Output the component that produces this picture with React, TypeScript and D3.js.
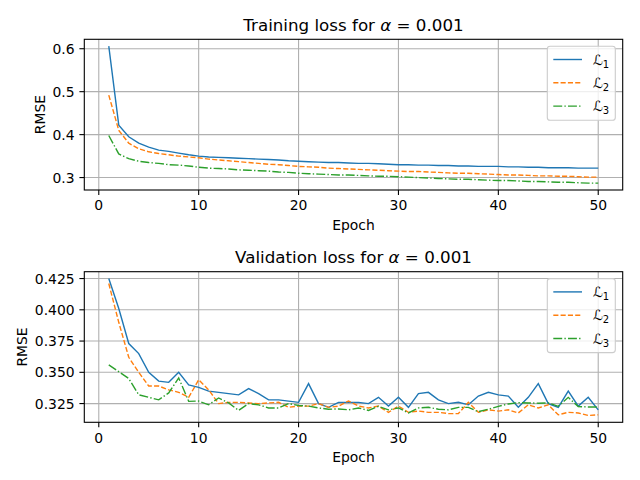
import React from 'react';
import * as d3 from 'd3';

const epochs = d3.range(1, 51);

const trainL1 = [
  0.606, 0.422, 0.395, 0.380, 0.371, 0.364, 0.361, 0.357, 0.353, 0.350,
  0.348, 0.347, 0.346, 0.345, 0.344, 0.343, 0.342, 0.341, 0.339, 0.338,
  0.337, 0.336, 0.335, 0.335, 0.334, 0.333, 0.333, 0.332, 0.331, 0.330,
  0.330, 0.329, 0.329, 0.328, 0.328, 0.327, 0.327, 0.326, 0.326, 0.326,
  0.325, 0.325, 0.324, 0.324, 0.323, 0.323, 0.323, 0.322, 0.322, 0.322,
];
const trainL2 = [
  0.492, 0.410, 0.380, 0.367, 0.360, 0.356, 0.353, 0.350, 0.348, 0.346,
  0.343, 0.341, 0.339, 0.337, 0.335, 0.333, 0.331, 0.330, 0.328, 0.326,
  0.325, 0.324, 0.322, 0.321, 0.320, 0.319, 0.318, 0.317, 0.316, 0.315,
  0.314, 0.314, 0.313, 0.312, 0.311, 0.310, 0.310, 0.309, 0.308, 0.307,
  0.306, 0.306, 0.305, 0.304, 0.304, 0.303, 0.303, 0.302, 0.301, 0.301,
];
const trainL3 = [
  0.398, 0.355, 0.344, 0.338, 0.335, 0.333, 0.330, 0.329, 0.327, 0.324,
  0.322, 0.321, 0.320, 0.318, 0.317, 0.316, 0.315, 0.313, 0.312, 0.310,
  0.309, 0.308, 0.307, 0.306, 0.306, 0.305, 0.304, 0.303, 0.303, 0.302,
  0.301, 0.300, 0.299, 0.298, 0.297, 0.296, 0.296, 0.295, 0.294, 0.293,
  0.293, 0.292, 0.291, 0.291, 0.290, 0.289, 0.289, 0.288, 0.287, 0.287,
];

const valL1 = [
  0.425, 0.401, 0.373, 0.365, 0.350, 0.343, 0.342, 0.350, 0.340, 0.338,
  0.335, 0.334, 0.333, 0.332, 0.337, 0.333, 0.328, 0.328, 0.327, 0.326,
  0.341, 0.325, 0.322, 0.326, 0.326, 0.326, 0.325, 0.330, 0.323, 0.330,
  0.322, 0.333, 0.334, 0.328, 0.325, 0.326, 0.324, 0.331, 0.334, 0.332,
  0.331, 0.322, 0.330, 0.341, 0.325, 0.322, 0.335, 0.323, 0.330, 0.320,
];
const valL2 = [
  0.421, 0.390, 0.362, 0.350, 0.339, 0.339, 0.336, 0.334, 0.330, 0.344,
  0.336, 0.325, 0.326, 0.326, 0.3255, 0.325, 0.3255, 0.326, 0.322, 0.323,
  0.323, 0.325, 0.322, 0.323, 0.327, 0.323, 0.3215, 0.323, 0.318, 0.323,
  0.318, 0.319, 0.318, 0.318, 0.317, 0.317, 0.326, 0.318, 0.320, 0.319,
  0.320, 0.3175, 0.324, 0.3215, 0.324, 0.316, 0.318, 0.3175, 0.3155, 0.316,
];
const valL3 = [
  0.356, 0.3505, 0.345, 0.332, 0.330, 0.328, 0.3335, 0.3455, 0.3268, 0.327,
  0.324, 0.3295, 0.3255, 0.3195, 0.325, 0.324, 0.3215, 0.3215, 0.325, 0.3235,
  0.323, 0.3215, 0.3205, 0.3207, 0.320, 0.3215, 0.3195, 0.3228, 0.320, 0.3215,
  0.3175, 0.3215, 0.322, 0.3205, 0.320, 0.322, 0.322, 0.3185, 0.3205, 0.3228,
  0.3247, 0.3258, 0.3255, 0.3253, 0.3255, 0.3228, 0.330, 0.3226, 0.3223, 0.3223,
];

const xTicks = [0, 10, 20, 30, 40, 50];
const trainYTicks = [0.3, 0.4, 0.5, 0.6];
const valYTicks = [0.325, 0.35, 0.375, 0.4, 0.425];
const seriesNames = ['1', '2', '3'];
const colors = ['#1f77b4', '#ff7f0e', '#2ca02c'];
const dashes = ['none', '5.1,2.2', '8.9,2.2,1.4,2.2'];

const FONT = 'DejaVu Sans, sans-serif';

interface PanelProps {
  title: string;
  series: number[][];
  yTicks: number[];
  yFormat: string;
  top: number;
  bottom: number;
  ylabelX: number;
}

const LEFT = 84.3;
const RIGHT = 622.7;

const Panel: React.FC<PanelProps> = ({ title, series, yTicks, yFormat, top, bottom, ylabelX }) => {
  const x = d3.scaleLinear().domain([1 - 2.45, 50 + 2.45]).range([LEFT, RIGHT]);
  const all = series.flat();
  const [lo, hi] = d3.extent(all) as [number, number];
  const pad = (hi - lo) * 0.05;
  const y = d3.scaleLinear().domain([lo - pad, hi + pad]).range([bottom, top]);
  const fmt = d3.format(yFormat);
  const line = d3.line<number>().x((_, i) => x(epochs[i])).y(d => y(d));

  const legX = 547.3;
  const legY = top + 6.9;
  const rowH = 23.3;

  return (
    <g>
      {/* grid */}
      {xTicks.map(t => (
        <line key={'gx' + t} x1={x(t)} x2={x(t)} y1={top} y2={bottom} stroke="#b0b0b0" strokeWidth={1.1} />
      ))}
      {yTicks.map(t => (
        <line key={'gy' + t} x1={LEFT} x2={RIGHT} y1={y(t)} y2={y(t)} stroke="#b0b0b0" strokeWidth={1.1} />
      ))}
      {/* lines */}
      {series.map((s, i) => (
        <path key={'s' + i} d={line(s) || ''} fill="none" stroke={colors[i]} strokeWidth={1.4}
          strokeDasharray={dashes[i]} />
      ))}
      {/* spines */}
      <rect x={LEFT} y={top} width={RIGHT - LEFT} height={bottom - top} fill="none" stroke="#000" strokeWidth={1.1} />
      {/* ticks */}
      {xTicks.map(t => (
        <g key={'tx' + t}>
          <line x1={x(t)} x2={x(t)} y1={bottom} y2={bottom + 4.9} stroke="#000" strokeWidth={1.1} />
          <text x={x(t)} y={bottom + 20.3} textAnchor="middle" fontSize={13.9} fontFamily={FONT}>{t}</text>
        </g>
      ))}
      {yTicks.map(t => (
        <g key={'ty' + t}>
          <line x1={LEFT - 4.9} x2={LEFT} y1={y(t)} y2={y(t)} stroke="#000" strokeWidth={1.1} />
          <text x={LEFT - 9.7} y={y(t) + 5} textAnchor="end" fontSize={13.9} fontFamily={FONT}>{fmt(t)}</text>
        </g>
      ))}
      <text x={(LEFT + RIGHT) / 2} y={bottom + 40} textAnchor="middle" fontSize={13.9} fontFamily={FONT}>Epoch</text>
      <text transform={`translate(${ylabelX},${(top + bottom) / 2}) rotate(-90)`} textAnchor="middle"
        fontSize={13.9} fontFamily={FONT}>RMSE</text>
      <text x={(LEFT + RIGHT) / 2} y={top - 8.3} textAnchor="middle" fontSize={16.7} fontFamily={FONT}>
        {title}<tspan fontStyle="italic">α</tspan> = 0.001
      </text>
      {/* legend */}
      <rect x={legX} y={legY} width={68} height={74} rx={2.8} fill="#fff" fillOpacity={0.8}
        stroke="#cccccc" strokeWidth={1.1} />
      {seriesNames.map((n, i) => {
        const ry = legY + 13.3 + i * rowH;
        return (
          <g key={'lg' + n}>
            <line x1={legX + 6} x2={legX + 34.7} y1={ry} y2={ry} stroke={colors[i]} strokeWidth={1.4}
              strokeDasharray={dashes[i]} />
            <text x={legX + 45.5} y={ry + 5} fontSize={13.9} fontFamily={FONT} fontStyle="italic">
              ℒ<tspan fontSize={10} fontStyle="normal" dy={3}>{n}</tspan>
            </text>
          </g>
        );
      })}
    </g>
  );
};

export default function App() {
  return (
    <div style={{ position: 'absolute', left: 0, top: 0 }}>
      <svg width={640} height={480} style={{ display: 'block', background: '#fff' }}>
        <Panel title="Training loss for " series={[trainL1, trainL2, trainL3]} yTicks={trainYTicks}
          yFormat=".1f" top={39.3} bottom={190} ylabelX={45} />
        <Panel title="Validation loss for " series={[valL1, valL2, valL3]} yTicks={valYTicks}
          yFormat=".3f" top={271.7} bottom={422.3} ylabelX={27} />
      </svg>
    </div>
  );
}
